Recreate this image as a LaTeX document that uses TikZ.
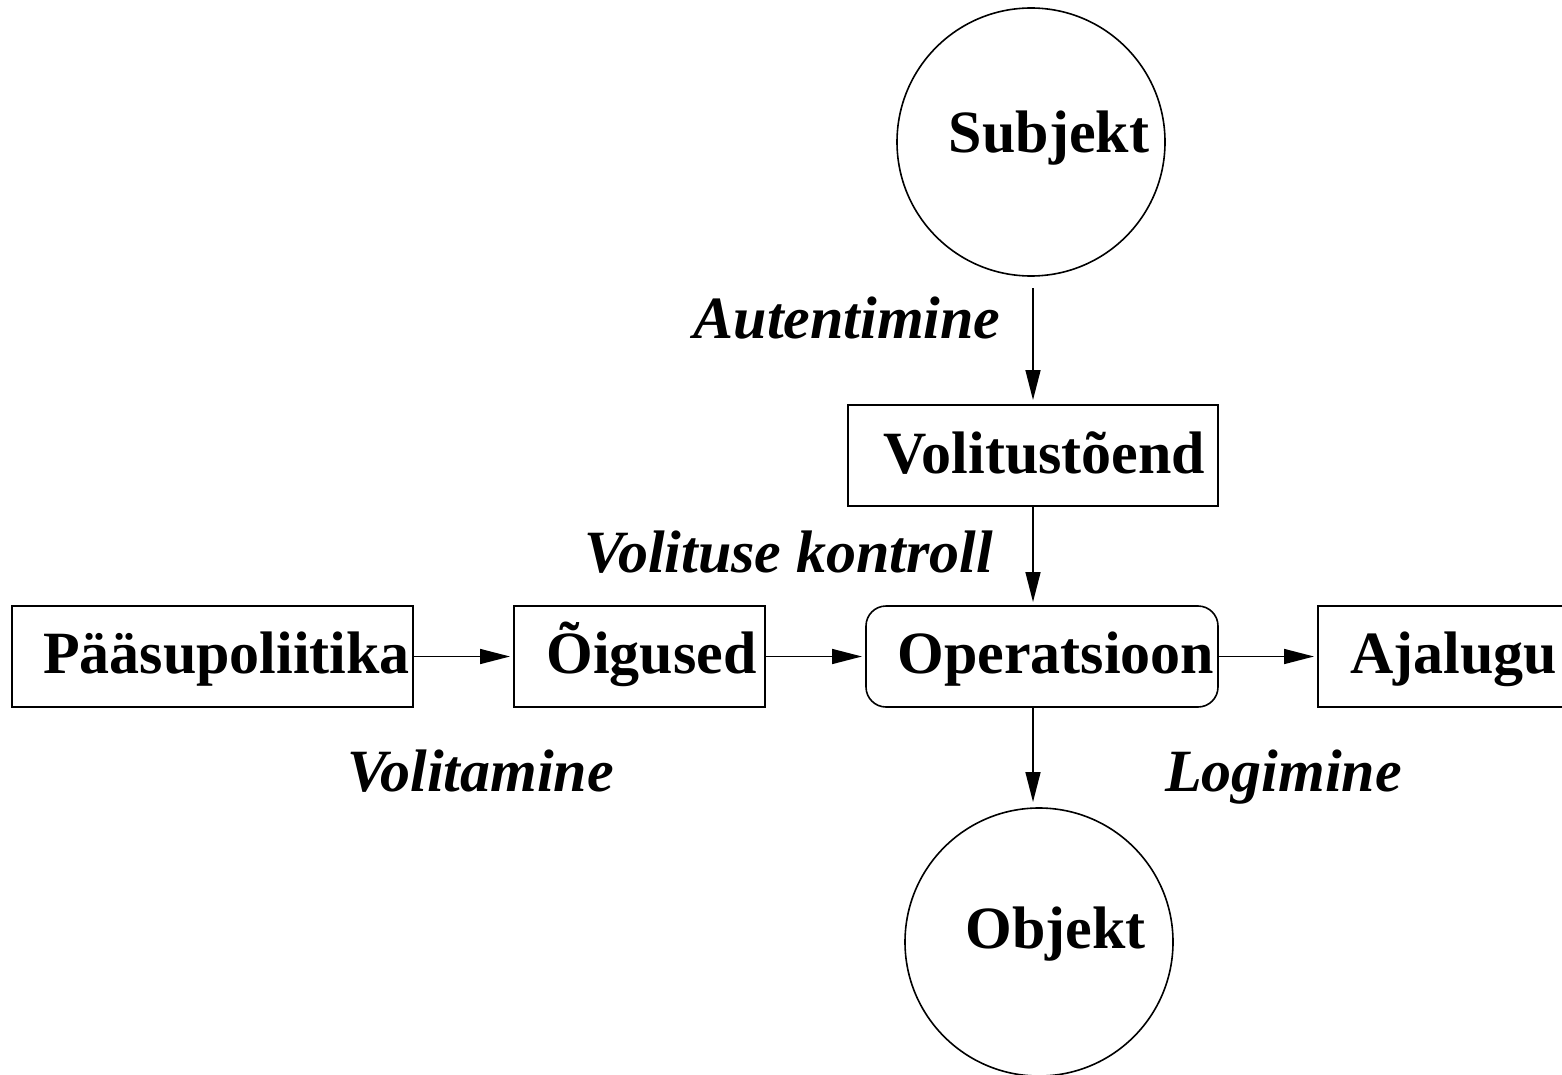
\documentclass[tikz,border=0pt]{standalone}
\usepackage{fontspec}
\setmainfont{Liberation Serif}
\usetikzlibrary{arrows.meta}
\begin{document}
\begin{tikzpicture}[x=0.5pt,y=-0.5pt,
  every node/.style={inner sep=0pt, outer sep=0pt},
  shapebox/.style={draw, line width=0.8pt, rectangle, minimum height=50.5pt},
  roundbox/.style={shapebox, rounded corners=10pt},
  circ/.style={draw, line width=0.8pt, circle, minimum size=134pt},
  nodetext/.style={font=\fontsize{30}{36}\selectfont\bfseries, anchor=base},
  edgetext/.style={font=\fontsize{30}{36}\selectfont\bfseries\itshape, anchor=base},
  conn/.style={line width=0.8pt, -{Triangle[length=15pt,width=7.5pt]}}
]
\useasboundingbox (0,0) rectangle (1562,1075);
% shapes
\node[circ] (subj) at (1031,142) {};
\node[shapebox, minimum width=185pt] (volit) at (1033,455.5) {};
\node[shapebox, minimum width=200.5pt] (pol) at (212.5,656.5) {};
\node[shapebox, minimum width=125.5pt] (oig) at (639.5,656.5) {};
\node[roundbox, minimum width=176pt] (oper) at (1042,656.5) {};
\node[shapebox, minimum width=124pt] (ajal) at (1442,656.5) {};
\node[circ] (obj) at (1039,942) {};
% texts
\node[nodetext] (subjt) at (1049,153) {Subjekt};
\node[nodetext] (volitt) at (1044.5,473) {Volitustõend};
\node[nodetext] (polt) at (226.5,673) {Pääsupoliitika};
\node[nodetext] (oigt) at (651.5,673) {Õigused};
\node[nodetext] (opert) at (1056,673) {Operatsioon};
\node[nodetext] (ajalt) at (1453.5,673) {Ajalugu};
\node[nodetext] (objt) at (1055.5,948) {Objekt};
% edge labels
\node[edgetext] (lauth) at (847,338) {Autentimine};
\node[edgetext] (lkontr) at (789,572) {Volituse kontroll};
\node[edgetext] (lvolit) at (480.5,791) {Volitamine};
\node[edgetext] (llog) at (1283.5,791) {Logimine};
% connectors
\draw[conn, shorten <=6pt, shorten >=2.5pt] (subj.south -| volit.north) -- (volit.north);
\draw[conn, shorten >=2pt] (volit.south) -- (volit.south |- oper.north);
\draw[conn, shorten >=3pt] (oper.south -| volit.south) -- (obj.north -| volit.south);
\draw[conn, shorten >=2pt] (pol.east) -- (oig.west);
\draw[conn, shorten >=2pt] (oig.east) -- (oper.west);
\draw[conn, shorten >=2pt] (oper.east) -- (ajal.west);
\end{tikzpicture}
\end{document}
